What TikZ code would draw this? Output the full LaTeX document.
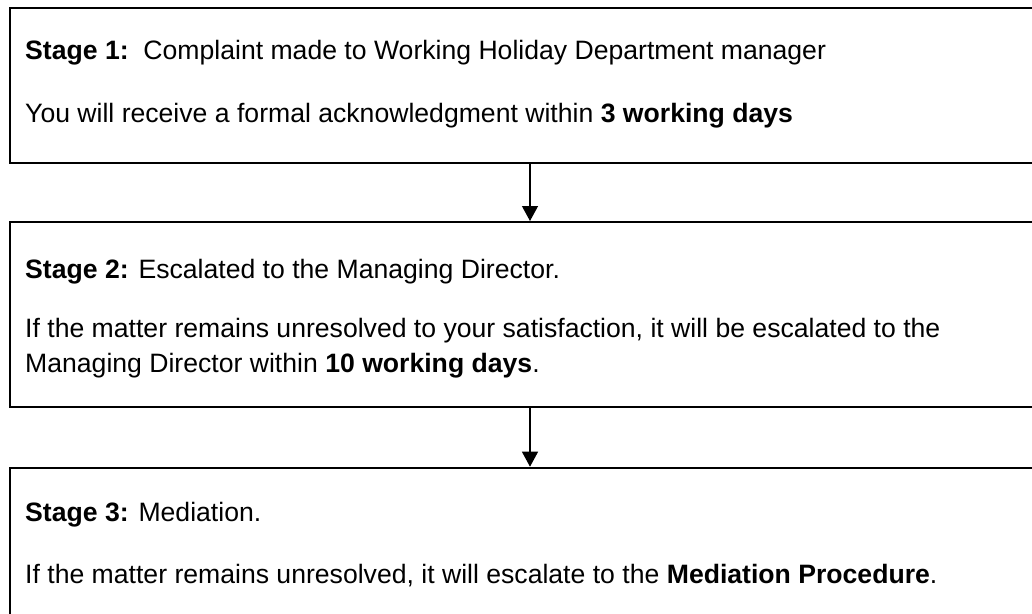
\documentclass[tikz,border=0pt]{standalone}
\usepackage{fontspec}
\setmainfont{Liberation Sans}
\usetikzlibrary{arrows.meta}

\begin{document}
\begin{tikzpicture}[x=1pt,y=-1pt,>={Triangle[length=15pt,width=16pt]},
  stage box/.style={rectangle,draw,line width=2pt,minimum width=1040pt,
  inner sep=0pt,anchor=north},
  stage text/.style={anchor=base west,inner sep=0pt,
  font=\fontsize{26.6}{35}\selectfont}]

  \clip (0,0) rectangle (1032,613);

  % the three stage boxes (right and bottom sides run off the page)
  \node[stage box,minimum height=155pt] (S1) at (530,6.5) {};
  \node[stage box,minimum height=184.5pt] (S2) at (530,221) {};
  \node[stage box,minimum height=200pt] (S3) at (530,466.7) {};

  % texts
  \node[stage text] (T1a) at (25,59) {\textbf{Stage 1:}\ \ Complaint made to Working Holiday Department manager};
  \node[stage text] (T1b) at (25,122) {You will receive a formal acknowledgment within \textbf{3 working days}};
  \node[stage text] (T2a) at (25,278) {\textbf{Stage 2:} Escalated to the Managing Director.};
  \node[stage text] (T2b) at (25,337) {If the matter remains unresolved to your satisfaction, it will be escalated to the};
  \node[stage text] (T2c) at (25,372) {Managing Director within \textbf{10 working days}.};
  \node[stage text] (T3a) at (25,521) {\textbf{Stage 3:} Mediation.};
  \node[stage text] (T3b) at (25,583) {If the matter remains unresolved, it will escalate to the \textbf{Mediation Procedure}.};

  \path[->,line width=1.3pt]
    % stage 1 goes on to stage 2
    (S1) edge (S2)
    % stage 2 goes on to stage 3
    (S2) edge (S3);

\end{tikzpicture}
\end{document}
